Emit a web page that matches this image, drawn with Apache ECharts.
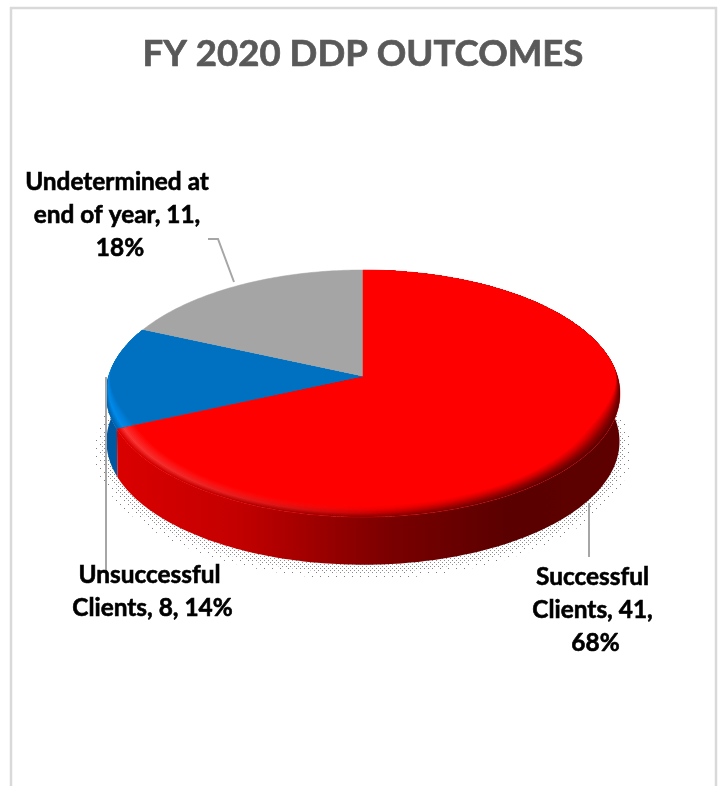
<!DOCTYPE html>
<html>
<head>
<meta charset="utf-8">
<style>
  html, body { margin: 0; padding: 0; background: #fff; }
  #chart { width: 720px; height: 786px; }
</style>
<script src="https://cdn.jsdelivr.net/npm/echarts@6/dist/echarts.min.js"></script>
</head>
<body>
<div id="chart"></div>
<script>
// Chart content
const chartTitle = 'FY 2020 DDP OUTCOMES';
const categories = ['Successful Clients', 'Unsuccessful Clients', 'Undetermined at end of year'];
const clientCounts = [41, 8, 11];
const percentLabels = [68, 14, 18];

// Slice colours: flat top face, then rim shading at the left, middle and right of the disc
const faceColors = ['#ff0000', '#0070c0', '#a5a5a5'];
const rimShades = [
  { left: ['#e00000', '#ff3838', '#ff1c1c', '#ff0000'], mid: ['#8a0000', '#c80000', '#f00000', '#ff0000'], right: ['#5e0000', '#8c0000', '#cc0000', '#ff0000'] },
  { left: ['#0064ae', '#008aea', '#007ed8', '#0070c0'], mid: ['#0064ae', '#008aea', '#007ed8', '#0070c0'], right: ['#0064ae', '#008aea', '#007ed8', '#0070c0'] },
  null
];
const wallStops = [
  [
    [0, '#dc0000'], [0.25, '#c40000'], [0.55, '#7a0000'], [0.78, '#5a0000'], [1, '#5e0000']
  ],
  [
    [0, '#0058a0'], [1, '#0064ae']
  ],
  null
];

// Disc geometry: a tilted circle seen in perspective
const disc = {
  apexX: 363, apexY: 377,
  radiusX: 254.7, radiusY: 121.3,
  perspective: 0.1336,
  depth: 48,
  left: 107, right: 622
};

// Label placement for each slice: text anchor, wrap width and leader line
const labelLayout = [
  { x: 595.5, y: 610.5, width: 150, leader: [[589, 503], [589, 557]] },
  { x: 152.5, y: 592, width: 172, leader: [[106, 377], [106, 570]] },
  { x: 120, y: 215.5, width: 205, leader: [[208, 239], [218, 239], [234, 282]] }
];

const total = clientCounts.reduce(function (a, b) { return a + b; }, 0);

// Projects a point on the unit disc (u right, v towards the viewer) to the page
function project(u, v, dy, scale) {
  const s = scale || 1;
  const w = 1 - disc.perspective * v;
  return [
    disc.apexX + s * disc.radiusX * u / w,
    disc.apexY + s * disc.radiusY * v / w + (dy || 0)
  ];
}

function rimPoint(theta, r, dy, scale) {
  return project(r * Math.sin(theta), -r * Math.cos(theta), dy, scale);
}

function lerpColor(a, b, t) {
  const pa = parseInt(a.slice(1), 16), pb = parseInt(b.slice(1), 16);
  const ch = function (shift) {
    const ca = (pa >> shift) & 255, cb = (pb >> shift) & 255;
    return Math.round(ca + (cb - ca) * t);
  };
  return 'rgb(' + ch(16) + ',' + ch(8) + ',' + ch(0) + ')';
}

function sampleShade(stops, t) {
  const pos = t * (stops.length - 1);
  const i = Math.min(Math.floor(pos), stops.length - 2);
  return lerpColor(stops[i], stops[i + 1], pos - i);
}

function horizontalGradient(colorStops) {
  return {
    type: 'linear', global: true,
    x: disc.left, y: 0, x2: disc.right, y2: 0,
    colorStops: colorStops.map(function (s) { return { offset: s[0], color: s[1] }; })
  };
}

// Top face of a slice; the rim is pulled in towards the front by `inset`
function wedgePoints(a0, a1, inset) {
  const pts = [[disc.apexX, disc.apexY]];
  const steps = Math.max(8, Math.round((a1 - a0) * 60));
  for (let i = 0; i <= steps; i++) {
    const theta = a0 + (a1 - a0) * i / steps;
    const v = -Math.cos(theta);
    const k = Math.min(1, Math.max(0, (v + 0.12) / 0.6));
    pts.push(rimPoint(theta, 1 - inset * k * k * (3 - 2 * k), 0));
  }
  return pts;
}

function wallPoints(a0, a1) {
  const top = [], bottom = [];
  const steps = Math.max(8, Math.round((a1 - a0) * 60));
  for (let i = 0; i <= steps; i++) {
    const theta = a0 + (a1 - a0) * i / steps;
    top.push(rimPoint(theta, 1, 0));
    bottom.unshift(rimPoint(theta, 1, disc.depth, 0.998));
  }
  return top.concat(bottom);
}

function renderSlice(params, api) {
  const idx = params.dataIndex;
  let before = 0;
  for (let i = 0; i < idx; i++) before += clientCounts[i];
  const a0 = before / total * Math.PI * 2;
  const a1 = (before + api.value(0)) / total * Math.PI * 2;
  // Later slices sit behind the first one
  const base = (clientCounts.length - idx) * 100;
  const children = [];

  if (wallStops[idx]) {
    children.push({
      type: 'polygon', z2: base,
      shape: { points: wallPoints(a0, a1) },
      style: { fill: horizontalGradient(wallStops[idx]) }
    });
  }

  children.push({
    type: 'polygon', z2: base + 1,
    shape: { points: wedgePoints(a0, a1, 0) },
    style: { fill: faceColors[idx], stroke: faceColors[idx], lineWidth: 0.5 }
  });

  // Soft bevel along the front of the rim
  if (rimShades[idx]) {
    const bands = 12;
    for (let b = 0; b <= bands; b++) {
      const t = b / bands;
      children.push({
        type: 'polygon', z2: base + 2 + b,
        shape: { points: wedgePoints(a0, a1, 0.07 * t) },
        style: {
          fill: horizontalGradient([
            [0, sampleShade(rimShades[idx].left, t)],
            [0.53, sampleShade(rimShades[idx].mid, t)],
            [0.85, sampleShade(rimShades[idx].right, t)],
            [1, sampleShade(rimShades[idx].right, t)]
          ])
        }
      });
    }
  }

  // Leader line and data label
  const lay = labelLayout[idx];
  children.push({
    type: 'polyline', z2: 900,
    shape: { points: lay.leader },
    style: { fill: 'none', stroke: '#a6a6a6', lineWidth: 2 }
  });
  children.push({
    type: 'text', z2: 901,
    style: {
      x: lay.x, y: lay.y,
      text: categories[idx] + ', ' + api.value(0) + ', ' + percentLabels[idx] + '%',
      width: lay.width,
      overflow: 'break',
      align: 'center',
      verticalAlign: 'middle',
      lineHeight: 33,
      font: 'bold 24.4px Lato',
      fill: '#000000',
      stroke: '#000000',
      lineWidth: 0.6
    }
  });

  return { type: 'group', children: children };
}

// Stippled fill used for the drop shadow under the disc
function stipple(size, dots, color) {
  const c = document.createElement('canvas');
  c.width = size; c.height = size;
  const g = c.getContext('2d');
  g.fillStyle = color;
  dots.forEach(function (d) { g.fillRect(d[0], d[1], 1, 1); });
  return c;
}

const shadowLayers = [
  { dy: 56, scale: 1.045, pattern: stipple(8, [[0, 0], [4, 4]], '#808080') },
  { dy: 54, scale: 1.015, pattern: stipple(4, [[0, 0], [2, 2]], '#8c8c8c') }
];

function renderShadow(params, api) {
  const lay = shadowLayers[params.dataIndex];
  const pts = [];
  for (let i = 0; i < 180; i++) {
    pts.push(rimPoint(i / 180 * Math.PI * 2, 1, lay.dy, lay.scale));
  }
  return {
    type: 'polygon',
    shape: { points: pts },
    style: { fill: { image: lay.pattern, repeat: 'repeat' } }
  };
}

const chart = echarts.init(document.getElementById('chart'));
chart.setOption({
  animation: false,
  backgroundColor: '#ffffff',
  title: {
    text: chartTitle,
    left: 358,
    textAlign: 'center',
    top: 31,
    textStyle: {
      fontFamily: 'Lato', fontWeight: 'bold', fontSize: 36.6, color: '#595959',
      textBorderColor: '#595959', textBorderWidth: 0.7
    }
  },
  graphic: [{
    type: 'rect', z: -10, silent: true,
    shape: { x: 11, y: 8, width: 705, height: 800 },
    style: { fill: 'none', stroke: '#d9d9d9', lineWidth: 2.5 }
  }],
  series: [
    {
      type: 'custom', coordinateSystem: 'none', z: 1, silent: true,
      renderItem: renderShadow,
      data: shadowLayers.map(function (_, i) { return [i]; })
    },
    {
      type: 'custom', coordinateSystem: 'none', z: 2, silent: true,
      renderItem: renderSlice,
      data: clientCounts.map(function (v) { return [v]; })
    }
  ]
});
</script>
</body>
</html>
